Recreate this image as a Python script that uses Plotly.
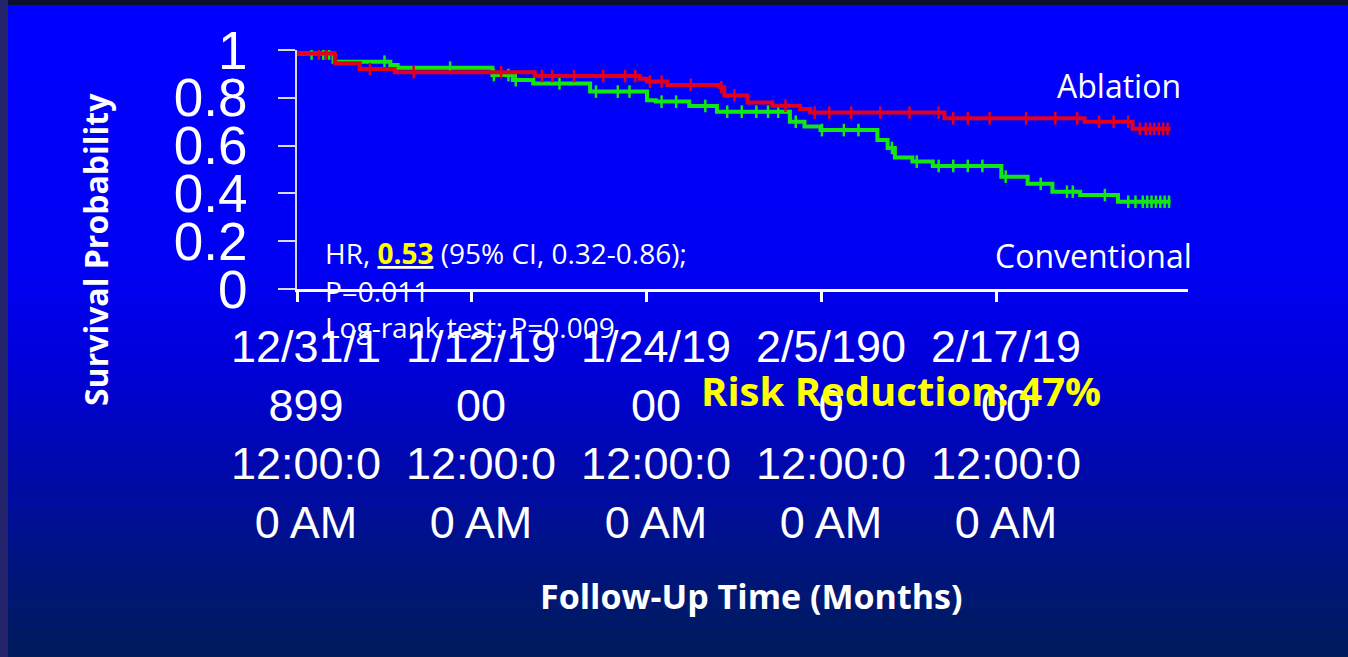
import numpy as np
import plotly.graph_objects as go

# Kaplan-Meier step data (months, survival probability)
ablation_t = [0, 2.6, 4.3, 6.7, 16.3, 23.5, 24.0, 25.4, 29.0, 29.3, 30.9, 32.6, 34.5, 35.2, 44.4, 54.0, 57.3, 59.9]
ablation_s = [0.985, 0.945, 0.92, 0.907, 0.891, 0.88, 0.868, 0.854, 0.844, 0.81, 0.78, 0.767, 0.753, 0.738, 0.714, 0.70, 0.67, 0.67]

conventional_t = [0, 2.5, 6.4, 6.9, 13.4, 14.8, 16.2, 20.1, 24.0, 24.6, 26.9, 28.8, 33.8, 34.8, 35.9, 39.8, 40.5, 41.0,
                  42.2, 43.6, 48.3, 50.1, 51.8, 53.7, 56.3, 59.9]
conventional_s = [0.985, 0.951, 0.937, 0.926, 0.895, 0.874, 0.86, 0.826, 0.79, 0.784, 0.766, 0.742, 0.70, 0.68, 0.665,
                  0.623, 0.59, 0.55, 0.533, 0.515, 0.47, 0.44, 0.407, 0.393, 0.365, 0.365]

# censored observations (months)
ablation_censor = [1.5, 2.0, 5.0, 8.0, 14.0, 16.8, 17.5, 19.0, 21.0, 22.5, 23.2, 24.2, 25.0, 27.0, 29.1, 30.0, 33.5,
                   35.5, 36.5, 38.0, 40.0, 42.0, 44.0, 45.0, 46.0, 47.5, 50.0, 52.0, 53.5, 55.0, 56.0, 57.0, 57.8,
                   58.2, 58.5, 58.8, 59.1, 59.4, 59.7]
conventional_censor = [1.0, 1.8, 2.2, 6.0, 10.5, 13.5, 14.5, 15.0, 18.0, 20.5, 22.0, 22.8, 25.0, 26.0, 28.0, 29.5,
                       30.5, 31.5, 32.3, 33.0, 34.2, 36.0, 37.5, 38.5, 40.8, 42.5, 44.0, 45.0, 46.0, 47.0, 48.6,
                       51.0, 52.8, 53.2, 55.4, 57.0, 57.5, 58.0, 58.3, 58.6, 58.9, 59.2, 59.5, 59.8]

y_tickvals = [0, 0.2, 0.4, 0.6, 0.8, 1]
y_ticktext = ["0", "0.2", "0.4", "0.6", "0.8", "1"]
x_tickvals = [0, 12, 24, 36, 48]
x_ticktext = [
    "12/31/1<br>899<br>12:00:0<br>0 AM",
    "1/12/19<br>00<br>12:00:0<br>0 AM",
    "1/24/19<br>00<br>12:00:0<br>0 AM",
    "2/5/190<br>0<br>12:00:0<br>0 AM",
    "2/17/19<br>00<br>12:00:0<br>0 AM",
]

W, H = 1348, 657
ML, MR, MT, MB = 297, 160, 50, 368
PW, PH = W - ML - MR, H - MT - MB

RED = "#e2001e"
GREEN = "#14e614"


def step_at(times, surv, t):
    idx = np.searchsorted(np.asarray(times), t, side="right") - 1
    return np.asarray(surv)[idx]


def px_x(px):
    return (px - ML) / PW


def px_y(py):
    return (H - MB - py) / PH


fig = go.Figure()

for name, t, s, cens, col in [
    ("Conventional", conventional_t, conventional_s, conventional_censor, GREEN),
    ("Ablation", ablation_t, ablation_s, ablation_censor, RED),
]:
    fig.add_trace(go.Scatter(x=t, y=s, mode="lines", line=dict(color=col, width=4, shape="hv"),
                             name=name, showlegend=False, hoverinfo="skip"))
    fig.add_trace(go.Scatter(x=cens, y=step_at(t, s, cens), mode="markers",
                             marker=dict(symbol="line-ns", size=9, line=dict(color=col, width=2.5)),
                             showlegend=False, hoverinfo="skip"))

# slide background: vertical gradient built from thin bands
stops = [(0.0, (0, 0, 255)), (0.40, (0, 0, 245)), (0.55, (0, 0, 218)), (0.70, (0, 8, 175)),
         (0.85, (0, 20, 130)), (1.0, (0, 28, 88))]
n_bands = 140
shapes = []
y0p, y1p = px_y(0), px_y(H)
for i in range(n_bands):
    f = (i + 0.5) / n_bands
    for (a, ca), (b, cb) in zip(stops[:-1], stops[1:]):
        if a <= f <= b:
            k = (f - a) / (b - a)
            c = tuple(int(round(ca[j] + (cb[j] - ca[j]) * k)) for j in range(3))
            break
    ya = y0p + (y1p - y0p) * i / n_bands
    yb = y0p + (y1p - y0p) * (i + 1) / n_bands
    shapes.append(dict(type="rect", xref="paper", yref="paper", x0=px_x(0), x1=px_x(W),
                       y0=ya, y1=yb - 0.002, fillcolor="rgb(%d,%d,%d)" % c, line=dict(width=0), layer="below"))
# dark frame edges
shapes.append(dict(type="rect", xref="paper", yref="paper", x0=px_x(0), x1=px_x(W), y0=px_y(0), y1=px_y(5),
                   fillcolor="#0d0f2e", line=dict(width=0), layer="below"))
shapes.append(dict(type="rect", xref="paper", yref="paper", x0=px_x(0), x1=px_x(8), y0=px_y(0), y1=px_y(H),
                   fillcolor="#24246c", line=dict(width=0), layer="below"))

white = "#ffffff"
yellow = "#ffff00"
body_font = "Open Sans"

annotations = [
    dict(text="<b>Survival Probability</b>", x=px_x(95), y=px_y(250), textangle=-90,
         font=dict(family=body_font, size=32, color=white)),
    dict(text="<b>Follow-Up Time (Months)</b>", x=px_x(751), y=px_y(596),
         font=dict(family=body_font, size=34, color=white)),
    dict(text="Ablation", x=px_x(1119), y=px_y(85), font=dict(family=body_font, size=32, color=white)),
    dict(text="Conventional", x=px_x(1093), y=px_y(255), font=dict(family=body_font, size=32, color=white)),
    dict(text="HR, <b><u><span style='color:#ffff00'>0.53</span></u></b> (95% CI, 0.32-0.86);",
         x=px_x(323), y=px_y(253), xanchor="left", font=dict(family=body_font, size=28, color=white)),
    dict(text="P=0.011", x=px_x(323), y=px_y(291), xanchor="left",
         font=dict(family=body_font, size=28, color=white)),
    dict(text="Log-rank test: P=0.009", x=px_x(323), y=px_y(327), xanchor="left",
         font=dict(family=body_font, size=28, color=white)),
    dict(text="<b>Risk Reduction: 47%</b>", x=px_x(901), y=px_y(390),
         font=dict(family=body_font, size=40, color=yellow)),
]
for a in annotations:
    a.setdefault("xanchor", "center")
    a.update(xref="paper", yref="paper", showarrow=False, yanchor="middle")

fig.update_layout(
    width=W, height=H,
    margin=dict(l=ML, r=MR, t=MT, b=MB),
    paper_bgcolor="#0000ff",
    plot_bgcolor="rgba(0,0,0,0)",
    shapes=shapes,
    annotations=annotations,
    showlegend=False,
    xaxis=dict(range=[0, 61.1], tickmode="array", tickvals=x_tickvals, ticktext=x_ticktext,
               showgrid=False, zeroline=False, showline=True, linecolor=white, linewidth=3,
               ticks="outside", ticklen=10, tickwidth=3, tickcolor=white, ticklabelstandoff=6,
               ticklabelshift=9,
               tickfont=dict(family="Liberation Sans", size=45, color=white), fixedrange=True),
    yaxis=dict(range=[0, 1], tickmode="array", tickvals=y_tickvals, ticktext=y_ticktext,
               showgrid=False, zeroline=False, showline=True, linecolor="#d9d9d9", linewidth=2,
               ticks="outside", ticklen=17, tickwidth=2, tickcolor="#d9d9d9", ticklabelstandoff=20,
               tickfont=dict(family="Liberation Sans", size=53, color=white), fixedrange=True),
)

fig.write_html("out.html")
